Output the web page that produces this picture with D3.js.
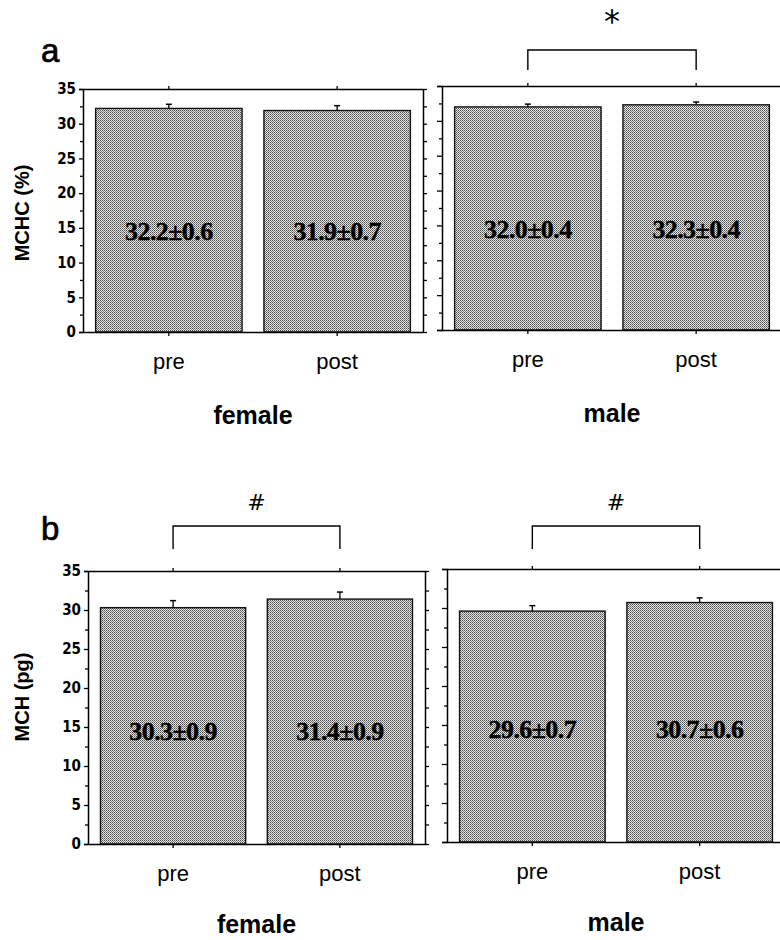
<!DOCTYPE html>
<html>
<head>
<meta charset="utf-8">
<title>MCHC / MCH pre-post</title>
<script src="https://d3js.org/d3.v7.min.js"></script>
<style>
  body { margin: 0; background: #fff; }
  svg { display: block; }
</style>
</head>
<body>
<div id="chart"></div>
<script>
// categories
const phases = ["pre", "post"];
const groups = ["female", "male"];

// axis ticks
const yTicks = [0, 5, 10, 15, 20, 25, 30, 35];
const yMinorTicks = [2.5, 7.5, 12.5, 17.5, 22.5, 27.5, 32.5];

// MCHC (%) - panel a
const mchcFemale = [32.2, 31.9];
const mchcFemaleSd = [0.6, 0.7];
const mchcMale = [32.0, 32.3];
const mchcMaleSd = [0.4, 0.4];
const mchcMarks = ["", "*"];

// MCH (pg) - panel b
const mchFemale = [30.3, 31.4];
const mchFemaleSd = [0.9, 0.9];
const mchMale = [29.6, 30.7];
const mchMaleSd = [0.7, 0.6];
const mchMarks = ["#", "#"];

const W = 780, H = 940;

const panels = [
    {
        letter: "a", title: "MCHC (%)",
        means: [mchcFemale, mchcMale], sds: [mchcFemaleSd, mchcMaleSd], marks: mchcMarks,
        yTop: [89, 86], yBottom: [332, 330],
        xr: [[83, 423], [442, 782]],
        letterY: 62, titleY: 213,
        bracketTop: 50, bracketLeg: 70,
        markY: 32, markSize: 32,
        groupDy: 92
    },
    {
        letter: "b", title: "MCH (pg)",
        means: [mchFemale, mchMale], sds: [mchFemaleSd, mchMaleSd], marks: mchMarks,
        yTop: [571, 569], yBottom: [844, 842],
        xr: [[88, 425], [447, 785]],
        letterY: 540, titleY: 697,
        bracketTop: 526, bracketLeg: 549,
        markY: 510, markSize: 22,
        groupDy: 89
    }
];

const svg = d3.select("#chart")
    .append("svg")
    .attr("width", W)
    .attr("height", H);

// halftone-like grey fill
const pat = svg.append("defs").append("pattern")
    .attr("id", "dots")
    .attr("width", 2).attr("height", 2)
    .attr("patternUnits", "userSpaceOnUse");
pat.append("rect").attr("width", 2).attr("height", 2).attr("fill", "#e6e6e6");
pat.append("rect").attr("x", 0).attr("y", 0).attr("width", 1).attr("height", 1).attr("fill", "#4a4a4a");
pat.append("rect").attr("x", 1).attr("y", 1).attr("width", 1).attr("height", 1).attr("fill", "#7c7c7c");

const tickFont = "'Liberation Sans Narrow', 'DejaVu Sans Condensed', sans-serif";
const sansFont = "'Liberation Sans', Arial, sans-serif";
const serifFont = "'Liberation Serif', 'Times New Roman', serif";

function styleAxis(g) {
    g.selectAll("path, line").attr("stroke", "#000").attr("stroke-width", 1.3);
    g.select(".domain").attr("stroke-width", 1.5);
}

panels.forEach(p => {
    const root = svg.append("g");

    // panel letter
    root.append("text")
        .attr("x", 41).attr("y", p.letterY)
        .attr("font-family", sansFont)
        .attr("font-size", 33)
        .attr("fill", "#000")
        .attr("stroke", "#000")
        .attr("stroke-width", 0.7)
        .text(p.letter);

    // y title
    root.append("text")
        .attr("transform", `translate(29,${p.titleY}) rotate(-90)`)
        .attr("text-anchor", "middle")
        .attr("font-family", sansFont)
        .attr("font-weight", "bold")
        .attr("font-size", 20)
        .text(p.title);

    groups.forEach((grp, gi) => {
        const g = root.append("g");
        const [x0, x1] = p.xr[gi];
        const yTopPx = p.yTop[gi], yBotPx = p.yBottom[gi];

        const x = d3.scaleBand()
            .domain(phases)
            .range([x0, x1])
            .paddingInner(0.13)
            .paddingOuter(0.075);

        const y = d3.scaleLinear()
            .domain([0, 35])
            .range([yBotPx, yTopPx]);

        // left axis: labels only on female side
        const leftMajor = d3.axisLeft(y).tickValues(yTicks).tickSizeOuter(0)
            .tickSize(gi === 0 ? 4 : 5).tickPadding(3);
        if (gi === 1) leftMajor.tickFormat("");
        g.append("g")
            .attr("transform", `translate(${x0},0)`)
            .call(leftMajor)
            .call(styleAxis)
            .call(a => a.selectAll("text")
                .attr("font-family", tickFont)
                .attr("font-weight", "bold")
                .attr("font-size", 15)
                .attr("fill", "#000"));

        g.append("g")
            .attr("transform", `translate(${x0},0)`)
            .call(d3.axisLeft(y).tickValues(yMinorTicks).tickSize(3).tickFormat("").tickSizeOuter(0))
            .call(styleAxis)
            .call(a => a.select(".domain").remove());

        // right border with outward ticks
        g.append("g")
            .attr("transform", `translate(${x1},0)`)
            .call(d3.axisRight(y).tickValues(yTicks).tickSize(4).tickFormat("").tickSizeOuter(0))
            .call(styleAxis);
        g.append("g")
            .attr("transform", `translate(${x1},0)`)
            .call(d3.axisRight(y).tickValues(yMinorTicks).tickSize(4).tickFormat("").tickSizeOuter(0))
            .call(styleAxis)
            .call(a => a.select(".domain").remove());

        // top frame with category ticks
        g.append("g")
            .attr("transform", `translate(0,${yTopPx})`)
            .call(d3.axisTop(x).tickSize(3).tickFormat("").tickSizeOuter(0))
            .call(styleAxis);

        // bars
        const means = p.means[gi], sds = p.sds[gi];
        g.selectAll(".bar")
            .data(phases)
            .enter()
            .append("rect")
            .attr("class", "bar")
            .attr("x", d => x(d))
            .attr("y", (d, i) => y(means[i]))
            .attr("width", x.bandwidth())
            .attr("height", (d, i) => y(0) - y(means[i]))
            .attr("fill", "url(#dots)")
            .attr("stroke", "#111")
            .attr("stroke-width", 1.4);

        // error bars (upper whisker)
        const cx = d => x(d) + x.bandwidth() / 2;
        g.selectAll(".err")
            .data(phases)
            .enter()
            .append("line")
            .attr("x1", cx).attr("x2", cx)
            .attr("y1", (d, i) => y(means[i]))
            .attr("y2", (d, i) => y(means[i] + sds[i]))
            .attr("stroke", "#000").attr("stroke-width", 1.3);
        g.selectAll(".cap")
            .data(phases)
            .enter()
            .append("line")
            .attr("x1", d => cx(d) - 3).attr("x2", d => cx(d) + 3)
            .attr("y1", (d, i) => y(means[i] + sds[i]))
            .attr("y2", (d, i) => y(means[i] + sds[i]))
            .attr("stroke", "#000").attr("stroke-width", 1.5);

        // value labels
        g.selectAll(".val")
            .data(phases)
            .enter()
            .append("text")
            .attr("x", cx)
            .attr("y", y(14.5))
            .attr("dy", "0.35em")
            .attr("text-anchor", "middle")
            .attr("font-family", serifFont)
            .attr("font-weight", "bold")
            .attr("font-size", 26)
            .attr("letter-spacing", -0.6)
            .attr("fill", "#000")
            .attr("stroke", "#000")
            .attr("stroke-width", 0.4)
            .text((d, i) => `${means[i].toFixed(1)}±${sds[i].toFixed(1)}`);

        // bottom axis with category labels
        g.append("g")
            .attr("transform", `translate(0,${yBotPx})`)
            .call(d3.axisBottom(x).tickSize(4).tickPadding(17).tickSizeOuter(0))
            .call(styleAxis)
            .call(a => a.selectAll("text")
                .attr("font-family", sansFont)
                .attr("font-size", 22)
                .attr("fill", "#000"));

        // group label
        g.append("text")
            .attr("x", (x0 + x1) / 2)
            .attr("y", yBotPx + p.groupDy)
            .attr("text-anchor", "middle")
            .attr("font-family", sansFont)
            .attr("font-weight", "bold")
            .attr("font-size", 25)
            .text(grp);

        // significance bracket
        const mark = p.marks[gi];
        if (mark) {
            const a = cx(phases[0]), b = cx(phases[1]);
            g.append("path")
                .attr("d", `M${a},${p.bracketLeg}V${p.bracketTop}H${b}V${p.bracketLeg}`)
                .attr("fill", "none")
                .attr("stroke", "#000")
                .attr("stroke-width", 1.4);
            g.append("text")
                .attr("x", (a + b) / 2)
                .attr("y", p.markY)
                .attr("text-anchor", "middle")
                .attr("font-family", "'DejaVu Sans', sans-serif")
                .attr("font-size", p.markSize)
                .text(mark);
        }
    });
});
</script>
</body>
</html>
